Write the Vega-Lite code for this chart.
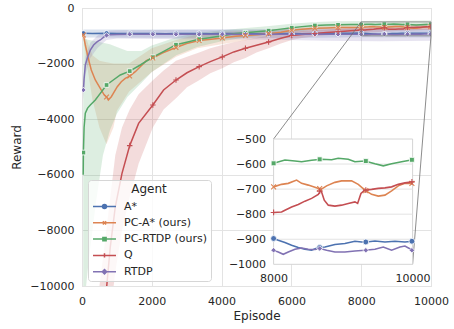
{
  "$schema": "https://vega.github.io/schema/vega-lite/v6.json",
  "width": 349,
  "height": 278,
  "autosize": "none",
  "padding": {"left": 82, "top": 8, "right": 23, "bottom": 43},
  "config": {
    "font": "DejaVu Sans",
    "view": {"stroke": "#dcdcdc", "strokeWidth": 1},
    "axis": {"labelFontSize": 11, "titleFontSize": 12, "labelColor": "#262626", "titleColor": "#262626", "titleFontWeight": "normal", "gridColor": "#e3e3e3", "gridWidth": 1, "domain": false, "ticks": false, "labelFlush": false},
    "legend": {"labelFontSize": 11, "titleFontSize": 12, "labelColor": "#262626", "titleColor": "#262626", "titleFontWeight": "normal"}
  },
  "datasets": {
    "lines": [
      {"a":"A*","ep":40,"r":-910},{"a":"A*","ep":300,"r":-915},{"a":"A*","ep":703,"r":-910},{"a":"A*","ep":1000,"r":-918},{"a":"A*","ep":1367,"r":-920},{"a":"A*","ep":1700,"r":-915},{"a":"A*","ep":2030,"r":-918},{"a":"A*","ep":2400,"r":-922},{"a":"A*","ep":2693,"r":-918},{"a":"A*","ep":3000,"r":-915},{"a":"A*","ep":3357,"r":-920},{"a":"A*","ep":3700,"r":-925},{"a":"A*","ep":4020,"r":-918},{"a":"A*","ep":4350,"r":-915},{"a":"A*","ep":4683,"r":-920},{"a":"A*","ep":5000,"r":-925},{"a":"A*","ep":5347,"r":-918},{"a":"A*","ep":5700,"r":-915},{"a":"A*","ep":6010,"r":-920},{"a":"A*","ep":6300,"r":-925},{"a":"A*","ep":6673,"r":-918},{"a":"A*","ep":7000,"r":-915},{"a":"A*","ep":7337,"r":-910},{"a":"A*","ep":7700,"r":-905},{"a":"A*","ep":8000,"r":-897},{"a":"A*","ep":8067,"r":-904},{"a":"A*","ep":8163,"r":-913},{"a":"A*","ep":8259,"r":-924},{"a":"A*","ep":8355,"r":-933},{"a":"A*","ep":8451,"r":-940},{"a":"A*","ep":8547,"r":-944},{"a":"A*","ep":8643,"r":-933},{"a":"A*","ep":8739,"r":-931},{"a":"A*","ep":8882,"r":-921},{"a":"A*","ep":9026,"r":-917},{"a":"A*","ep":9170,"r":-908},{"a":"A*","ep":9266,"r":-911},{"a":"A*","ep":9338,"r":-911},{"a":"A*","ep":9458,"r":-907},{"a":"A*","ep":9602,"r":-911},{"a":"A*","ep":9746,"r":-908},{"a":"A*","ep":9890,"r":-911},{"a":"A*","ep":10000,"r":-908},
      {"a":"PC-A* (ours)","ep":40,"r":-970},{"a":"PC-A* (ours)","ep":95,"r":-1330},{"a":"PC-A* (ours)","ep":180,"r":-1810},{"a":"PC-A* (ours)","ep":266,"r":-2230},{"a":"PC-A* (ours)","ep":381,"r":-2590},{"a":"PC-A* (ours)","ep":524,"r":-2890},{"a":"PC-A* (ours)","ep":639,"r":-3130},{"a":"PC-A* (ours)","ep":703,"r":-3200},{"a":"PC-A* (ours)","ep":754,"r":-3310},{"a":"PC-A* (ours)","ep":840,"r":-3190},{"a":"PC-A* (ours)","ep":897,"r":-3070},{"a":"PC-A* (ours)","ep":1011,"r":-2830},{"a":"PC-A* (ours)","ep":1126,"r":-2650},{"a":"PC-A* (ours)","ep":1240,"r":-2530},{"a":"PC-A* (ours)","ep":1367,"r":-2450},{"a":"PC-A* (ours)","ep":1527,"r":-2290},{"a":"PC-A* (ours)","ep":1670,"r":-2110},{"a":"PC-A* (ours)","ep":1842,"r":-1895},{"a":"PC-A* (ours)","ep":2030,"r":-1800},{"a":"PC-A* (ours)","ep":2300,"r":-1620},{"a":"PC-A* (ours)","ep":2693,"r":-1420},{"a":"PC-A* (ours)","ep":3000,"r":-1280},{"a":"PC-A* (ours)","ep":3357,"r":-1170},{"a":"PC-A* (ours)","ep":3700,"r":-1120},{"a":"PC-A* (ours)","ep":4020,"r":-1080},{"a":"PC-A* (ours)","ep":4400,"r":-1020},{"a":"PC-A* (ours)","ep":4683,"r":-990},{"a":"PC-A* (ours)","ep":5000,"r":-960},{"a":"PC-A* (ours)","ep":5347,"r":-930},{"a":"PC-A* (ours)","ep":5700,"r":-870},{"a":"PC-A* (ours)","ep":6010,"r":-800},{"a":"PC-A* (ours)","ep":6300,"r":-760},{"a":"PC-A* (ours)","ep":6673,"r":-730},{"a":"PC-A* (ours)","ep":7000,"r":-715},{"a":"PC-A* (ours)","ep":7337,"r":-705},{"a":"PC-A* (ours)","ep":7700,"r":-700},{"a":"PC-A* (ours)","ep":8000,"r":-691},{"a":"PC-A* (ours)","ep":8115,"r":-681},{"a":"PC-A* (ours)","ep":8211,"r":-677},{"a":"PC-A* (ours)","ep":8331,"r":-664},{"a":"PC-A* (ours)","ep":8403,"r":-677},{"a":"PC-A* (ours)","ep":8499,"r":-684},{"a":"PC-A* (ours)","ep":8595,"r":-693},{"a":"PC-A* (ours)","ep":8681,"r":-701},{"a":"PC-A* (ours)","ep":8763,"r":-687},{"a":"PC-A* (ours)","ep":8882,"r":-673},{"a":"PC-A* (ours)","ep":8978,"r":-667},{"a":"PC-A* (ours)","ep":9122,"r":-667},{"a":"PC-A* (ours)","ep":9218,"r":-681},{"a":"PC-A* (ours)","ep":9314,"r":-704},{"a":"PC-A* (ours)","ep":9410,"r":-721},{"a":"PC-A* (ours)","ep":9506,"r":-728},{"a":"PC-A* (ours)","ep":9602,"r":-724},{"a":"PC-A* (ours)","ep":9698,"r":-707},{"a":"PC-A* (ours)","ep":9794,"r":-687},{"a":"PC-A* (ours)","ep":9890,"r":-677},{"a":"PC-A* (ours)","ep":10000,"r":-677},
      {"a":"PC-RTDP (ours)","ep":35,"r":-6000},{"a":"PC-RTDP (ours)","ep":40,"r":-5200},{"a":"PC-RTDP (ours)","ep":60,"r":-4300},{"a":"PC-RTDP (ours)","ep":95,"r":-3780},{"a":"PC-RTDP (ours)","ep":160,"r":-3600},{"a":"PC-RTDP (ours)","ep":238,"r":-3490},{"a":"PC-RTDP (ours)","ep":381,"r":-3310},{"a":"PC-RTDP (ours)","ep":524,"r":-3070},{"a":"PC-RTDP (ours)","ep":703,"r":-2770},{"a":"PC-RTDP (ours)","ep":897,"r":-2590},{"a":"PC-RTDP (ours)","ep":1097,"r":-2410},{"a":"PC-RTDP (ours)","ep":1367,"r":-2270},{"a":"PC-RTDP (ours)","ep":1670,"r":-2050},{"a":"PC-RTDP (ours)","ep":2030,"r":-1770},{"a":"PC-RTDP (ours)","ep":2330,"r":-1570},{"a":"PC-RTDP (ours)","ep":2693,"r":-1320},{"a":"PC-RTDP (ours)","ep":3000,"r":-1230},{"a":"PC-RTDP (ours)","ep":3357,"r":-1120},{"a":"PC-RTDP (ours)","ep":3700,"r":-1060},{"a":"PC-RTDP (ours)","ep":4020,"r":-1000},{"a":"PC-RTDP (ours)","ep":4350,"r":-930},{"a":"PC-RTDP (ours)","ep":4683,"r":-890},{"a":"PC-RTDP (ours)","ep":5000,"r":-850},{"a":"PC-RTDP (ours)","ep":5347,"r":-815},{"a":"PC-RTDP (ours)","ep":5700,"r":-760},{"a":"PC-RTDP (ours)","ep":6010,"r":-710},{"a":"PC-RTDP (ours)","ep":6300,"r":-670},{"a":"PC-RTDP (ours)","ep":6673,"r":-630},{"a":"PC-RTDP (ours)","ep":7000,"r":-615},{"a":"PC-RTDP (ours)","ep":7337,"r":-605},{"a":"PC-RTDP (ours)","ep":7700,"r":-598},{"a":"PC-RTDP (ours)","ep":8000,"r":-597},{"a":"PC-RTDP (ours)","ep":8163,"r":-584},{"a":"PC-RTDP (ours)","ep":8307,"r":-588},{"a":"PC-RTDP (ours)","ep":8403,"r":-591},{"a":"PC-RTDP (ours)","ep":8547,"r":-585},{"a":"PC-RTDP (ours)","ep":8691,"r":-581},{"a":"PC-RTDP (ours)","ep":8835,"r":-583},{"a":"PC-RTDP (ours)","ep":8930,"r":-577},{"a":"PC-RTDP (ours)","ep":9074,"r":-581},{"a":"PC-RTDP (ours)","ep":9170,"r":-591},{"a":"PC-RTDP (ours)","ep":9314,"r":-588},{"a":"PC-RTDP (ours)","ep":9458,"r":-599},{"a":"PC-RTDP (ours)","ep":9578,"r":-607},{"a":"PC-RTDP (ours)","ep":9698,"r":-599},{"a":"PC-RTDP (ours)","ep":9842,"r":-591},{"a":"PC-RTDP (ours)","ep":10000,"r":-583},
      {"a":"Q","ep":40,"r":-30000},{"a":"Q","ep":300,"r":-18000},{"a":"Q","ep":500,"r":-13000},{"a":"Q","ep":600,"r":-11500},{"a":"Q","ep":716,"r":-9900},{"a":"Q","ep":811,"r":-8590},{"a":"Q","ep":954,"r":-7150},{"a":"Q","ep":1146,"r":-5950},{"a":"Q","ep":1367,"r":-4950},{"a":"Q","ep":1622,"r":-4150},{"a":"Q","ep":2030,"r":-3490},{"a":"Q","ep":2338,"r":-2950},{"a":"Q","ep":2693,"r":-2590},{"a":"Q","ep":3008,"r":-2330},{"a":"Q","ep":3357,"r":-2110},{"a":"Q","ep":3676,"r":-1930},{"a":"Q","ep":4020,"r":-1760},{"a":"Q","ep":4350,"r":-1580},{"a":"Q","ep":4683,"r":-1450},{"a":"Q","ep":5000,"r":-1340},{"a":"Q","ep":5347,"r":-1220},{"a":"Q","ep":5700,"r":-1090},{"a":"Q","ep":6010,"r":-990},{"a":"Q","ep":6300,"r":-950},{"a":"Q","ep":6673,"r":-915},{"a":"Q","ep":7000,"r":-880},{"a":"Q","ep":7337,"r":-850},{"a":"Q","ep":7700,"r":-815},{"a":"Q","ep":8000,"r":-793},{"a":"Q","ep":8115,"r":-791},{"a":"Q","ep":8163,"r":-784},{"a":"Q","ep":8259,"r":-771},{"a":"Q","ep":8355,"r":-761},{"a":"Q","ep":8451,"r":-748},{"a":"Q","ep":8547,"r":-737},{"a":"Q","ep":8643,"r":-721},{"a":"Q","ep":8681,"r":-704},{"a":"Q","ep":8729,"r":-744},{"a":"Q","ep":8787,"r":-764},{"a":"Q","ep":8882,"r":-768},{"a":"Q","ep":8978,"r":-764},{"a":"Q","ep":9074,"r":-757},{"a":"Q","ep":9170,"r":-751},{"a":"Q","ep":9209,"r":-757},{"a":"Q","ep":9257,"r":-717},{"a":"Q","ep":9314,"r":-704},{"a":"Q","ep":9410,"r":-701},{"a":"Q","ep":9506,"r":-697},{"a":"Q","ep":9602,"r":-695},{"a":"Q","ep":9698,"r":-691},{"a":"Q","ep":9794,"r":-681},{"a":"Q","ep":9890,"r":-675},{"a":"Q","ep":10000,"r":-671},
      {"a":"RTDP","ep":40,"r":-2950},{"a":"RTDP","ep":60,"r":-2550},{"a":"RTDP","ep":95,"r":-2050},{"a":"RTDP","ep":152,"r":-1810},{"a":"RTDP","ep":238,"r":-1510},{"a":"RTDP","ep":332,"r":-1330},{"a":"RTDP","ep":438,"r":-1210},{"a":"RTDP","ep":524,"r":-1150},{"a":"RTDP","ep":639,"r":-1030},{"a":"RTDP","ep":703,"r":-985},{"a":"RTDP","ep":800,"r":-960},{"a":"RTDP","ep":1000,"r":-950},{"a":"RTDP","ep":1367,"r":-945},{"a":"RTDP","ep":1700,"r":-940},{"a":"RTDP","ep":2030,"r":-945},{"a":"RTDP","ep":2400,"r":-942},{"a":"RTDP","ep":2693,"r":-945},{"a":"RTDP","ep":3000,"r":-940},{"a":"RTDP","ep":3357,"r":-945},{"a":"RTDP","ep":3700,"r":-948},{"a":"RTDP","ep":4020,"r":-944},{"a":"RTDP","ep":4350,"r":-940},{"a":"RTDP","ep":4683,"r":-945},{"a":"RTDP","ep":5000,"r":-948},{"a":"RTDP","ep":5347,"r":-944},{"a":"RTDP","ep":5700,"r":-940},{"a":"RTDP","ep":6010,"r":-945},{"a":"RTDP","ep":6300,"r":-948},{"a":"RTDP","ep":6673,"r":-944},{"a":"RTDP","ep":7000,"r":-942},{"a":"RTDP","ep":7337,"r":-945},{"a":"RTDP","ep":7700,"r":-944},{"a":"RTDP","ep":8000,"r":-944},{"a":"RTDP","ep":8067,"r":-951},{"a":"RTDP","ep":8139,"r":-960},{"a":"RTDP","ep":8211,"r":-951},{"a":"RTDP","ep":8307,"r":-940},{"a":"RTDP","ep":8403,"r":-935},{"a":"RTDP","ep":8499,"r":-940},{"a":"RTDP","ep":8595,"r":-941},{"a":"RTDP","ep":8667,"r":-937},{"a":"RTDP","ep":8763,"r":-944},{"a":"RTDP","ep":8882,"r":-951},{"a":"RTDP","ep":9026,"r":-951},{"a":"RTDP","ep":9170,"r":-947},{"a":"RTDP","ep":9314,"r":-944},{"a":"RTDP","ep":9458,"r":-940},{"a":"RTDP","ep":9578,"r":-931},{"a":"RTDP","ep":9698,"r":-944},{"a":"RTDP","ep":9818,"r":-931},{"a":"RTDP","ep":9890,"r":-927},{"a":"RTDP","ep":10000,"r":-944}
    ],
    "markers": [
      {"a":"A*","ep":40,"r":-910},{"a":"A*","ep":703,"r":-910},{"a":"A*","ep":1367,"r":-920},{"a":"A*","ep":2030,"r":-918},{"a":"A*","ep":2693,"r":-918},{"a":"A*","ep":3357,"r":-920},{"a":"A*","ep":4020,"r":-918},{"a":"A*","ep":4683,"r":-920},{"a":"A*","ep":5347,"r":-918},{"a":"A*","ep":6010,"r":-920},{"a":"A*","ep":6673,"r":-918},{"a":"A*","ep":7337,"r":-910},{"a":"A*","ep":8000,"r":-897},{"a":"A*","ep":8663,"r":-933},{"a":"A*","ep":9327,"r":-911},{"a":"A*","ep":9990,"r":-908},
      {"a":"PC-A* (ours)","ep":40,"r":-970},{"a":"PC-A* (ours)","ep":703,"r":-3200},{"a":"PC-A* (ours)","ep":1367,"r":-2450},{"a":"PC-A* (ours)","ep":2030,"r":-1800},{"a":"PC-A* (ours)","ep":2693,"r":-1420},{"a":"PC-A* (ours)","ep":3357,"r":-1170},{"a":"PC-A* (ours)","ep":4020,"r":-1080},{"a":"PC-A* (ours)","ep":4683,"r":-990},{"a":"PC-A* (ours)","ep":5347,"r":-930},{"a":"PC-A* (ours)","ep":6010,"r":-800},{"a":"PC-A* (ours)","ep":6673,"r":-730},{"a":"PC-A* (ours)","ep":7337,"r":-705},{"a":"PC-A* (ours)","ep":8000,"r":-691},{"a":"PC-A* (ours)","ep":8663,"r":-698},{"a":"PC-A* (ours)","ep":9327,"r":-706},{"a":"PC-A* (ours)","ep":9990,"r":-677},
      {"a":"PC-RTDP (ours)","ep":40,"r":-5200},{"a":"PC-RTDP (ours)","ep":703,"r":-2770},{"a":"PC-RTDP (ours)","ep":1367,"r":-2270},{"a":"PC-RTDP (ours)","ep":2030,"r":-1770},{"a":"PC-RTDP (ours)","ep":2693,"r":-1320},{"a":"PC-RTDP (ours)","ep":3357,"r":-1120},{"a":"PC-RTDP (ours)","ep":4020,"r":-1000},{"a":"PC-RTDP (ours)","ep":4683,"r":-890},{"a":"PC-RTDP (ours)","ep":5347,"r":-815},{"a":"PC-RTDP (ours)","ep":6010,"r":-710},{"a":"PC-RTDP (ours)","ep":6673,"r":-630},{"a":"PC-RTDP (ours)","ep":7337,"r":-605},{"a":"PC-RTDP (ours)","ep":8000,"r":-597},{"a":"PC-RTDP (ours)","ep":8663,"r":-581},{"a":"PC-RTDP (ours)","ep":9327,"r":-588},{"a":"PC-RTDP (ours)","ep":9990,"r":-583},
      {"a":"Q","ep":703,"r":-10080},{"a":"Q","ep":1367,"r":-4950},{"a":"Q","ep":2030,"r":-3490},{"a":"Q","ep":2693,"r":-2590},{"a":"Q","ep":3357,"r":-2110},{"a":"Q","ep":4020,"r":-1760},{"a":"Q","ep":4683,"r":-1450},{"a":"Q","ep":5347,"r":-1220},{"a":"Q","ep":6010,"r":-990},{"a":"Q","ep":6673,"r":-915},{"a":"Q","ep":7337,"r":-850},{"a":"Q","ep":8000,"r":-793},{"a":"Q","ep":8663,"r":-708},{"a":"Q","ep":9327,"r":-704},{"a":"Q","ep":9990,"r":-671},
      {"a":"RTDP","ep":40,"r":-2950},{"a":"RTDP","ep":703,"r":-985},{"a":"RTDP","ep":1367,"r":-945},{"a":"RTDP","ep":2030,"r":-945},{"a":"RTDP","ep":2693,"r":-945},{"a":"RTDP","ep":3357,"r":-945},{"a":"RTDP","ep":4020,"r":-944},{"a":"RTDP","ep":4683,"r":-945},{"a":"RTDP","ep":5347,"r":-944},{"a":"RTDP","ep":6010,"r":-945},{"a":"RTDP","ep":6673,"r":-944},{"a":"RTDP","ep":7337,"r":-945},{"a":"RTDP","ep":8000,"r":-944},{"a":"RTDP","ep":8663,"r":-937},{"a":"RTDP","ep":9327,"r":-944},{"a":"RTDP","ep":9990,"r":-944}
    ],
    "bands": [
      {"a":"A*","ep":40,"lo":-1060,"hi":-770},{"a":"A*","ep":2000,"lo":-1070,"hi":-770},{"a":"A*","ep":4000,"lo":-1070,"hi":-775},{"a":"A*","ep":6000,"lo":-1080,"hi":-770},{"a":"A*","ep":8000,"lo":-1050,"hi":-750},{"a":"A*","ep":10000,"lo":-1060,"hi":-760},
      {"a":"PC-A* (ours)","ep":40,"lo":-1050,"hi":-900},{"a":"PC-A* (ours)","ep":150,"lo":-2100,"hi":-1200},{"a":"PC-A* (ours)","ep":300,"lo":-3300,"hi":-1700},{"a":"PC-A* (ours)","ep":500,"lo":-4300,"hi":-1900},{"a":"PC-A* (ours)","ep":700,"lo":-4900,"hi":-1950},{"a":"PC-A* (ours)","ep":900,"lo":-4300,"hi":-2000},{"a":"PC-A* (ours)","ep":1000,"lo":-3700,"hi":-2000},{"a":"PC-A* (ours)","ep":1350,"lo":-3000,"hi":-2000},{"a":"PC-A* (ours)","ep":2000,"lo":-2300,"hi":-1450},{"a":"PC-A* (ours)","ep":2700,"lo":-1750,"hi":-1150},{"a":"PC-A* (ours)","ep":3300,"lo":-1450,"hi":-950},{"a":"PC-A* (ours)","ep":4000,"lo":-1300,"hi":-850},{"a":"PC-A* (ours)","ep":5000,"lo":-1100,"hi":-820},{"a":"PC-A* (ours)","ep":6000,"lo":-900,"hi":-700},{"a":"PC-A* (ours)","ep":6700,"lo":-830,"hi":-630},{"a":"PC-A* (ours)","ep":8000,"lo":-790,"hi":-590},{"a":"PC-A* (ours)","ep":9000,"lo":-780,"hi":-570},{"a":"PC-A* (ours)","ep":10000,"lo":-780,"hi":-580},
      {"a":"PC-RTDP (ours)","ep":35,"lo":-11000,"hi":-1100},{"a":"PC-RTDP (ours)","ep":200,"lo":-9000,"hi":-1150},{"a":"PC-RTDP (ours)","ep":400,"lo":-7000,"hi":-1200},{"a":"PC-RTDP (ours)","ep":600,"lo":-5300,"hi":-1250},{"a":"PC-RTDP (ours)","ep":800,"lo":-4400,"hi":-1300},{"a":"PC-RTDP (ours)","ep":1000,"lo":-3800,"hi":-1400},{"a":"PC-RTDP (ours)","ep":1300,"lo":-3200,"hi":-1550},{"a":"PC-RTDP (ours)","ep":1700,"lo":-2700,"hi":-1550},{"a":"PC-RTDP (ours)","ep":2000,"lo":-2300,"hi":-1350},{"a":"PC-RTDP (ours)","ep":2700,"lo":-1700,"hi":-1050},{"a":"PC-RTDP (ours)","ep":3300,"lo":-1400,"hi":-900},{"a":"PC-RTDP (ours)","ep":4000,"lo":-1200,"hi":-800},{"a":"PC-RTDP (ours)","ep":4700,"lo":-1050,"hi":-720},{"a":"PC-RTDP (ours)","ep":5300,"lo":-950,"hi":-660},{"a":"PC-RTDP (ours)","ep":6000,"lo":-850,"hi":-570},{"a":"PC-RTDP (ours)","ep":6700,"lo":-760,"hi":-500},{"a":"PC-RTDP (ours)","ep":7300,"lo":-730,"hi":-480},{"a":"PC-RTDP (ours)","ep":8000,"lo":-720,"hi":-470},{"a":"PC-RTDP (ours)","ep":9000,"lo":-720,"hi":-460},{"a":"PC-RTDP (ours)","ep":10000,"lo":-720,"hi":-450},
      {"a":"Q","ep":40,"lo":-38000,"hi":-22000},{"a":"Q","ep":300,"lo":-23000,"hi":-13000},{"a":"Q","ep":500,"lo":-16000,"hi":-10000},{"a":"Q","ep":600,"lo":-14000,"hi":-9000},{"a":"Q","ep":716,"lo":-12500,"hi":-7800},{"a":"Q","ep":811,"lo":-11000,"hi":-6800},{"a":"Q","ep":954,"lo":-9500,"hi":-5300},{"a":"Q","ep":1146,"lo":-8000,"hi":-4300},{"a":"Q","ep":1367,"lo":-6800,"hi":-3650},{"a":"Q","ep":1622,"lo":-5600,"hi":-3100},{"a":"Q","ep":2030,"lo":-4300,"hi":-2600},{"a":"Q","ep":2338,"lo":-3650,"hi":-2250},{"a":"Q","ep":2693,"lo":-3250,"hi":-1900},{"a":"Q","ep":3008,"lo":-2850,"hi":-1750},{"a":"Q","ep":3357,"lo":-2600,"hi":-1600},{"a":"Q","ep":3676,"lo":-2350,"hi":-1450},{"a":"Q","ep":4020,"lo":-2170,"hi":-1330},{"a":"Q","ep":4350,"lo":-1950,"hi":-1230},{"a":"Q","ep":4683,"lo":-1800,"hi":-1150},{"a":"Q","ep":5000,"lo":-1600,"hi":-1080},{"a":"Q","ep":5347,"lo":-1450,"hi":-1000},{"a":"Q","ep":5700,"lo":-1280,"hi":-920},{"a":"Q","ep":6010,"lo":-1150,"hi":-860},{"a":"Q","ep":6300,"lo":-1080,"hi":-830},{"a":"Q","ep":6673,"lo":-1020,"hi":-810},{"a":"Q","ep":7000,"lo":-980,"hi":-780},{"a":"Q","ep":7337,"lo":-950,"hi":-750},{"a":"Q","ep":7700,"lo":-920,"hi":-720},{"a":"Q","ep":8000,"lo":-900,"hi":-690},{"a":"Q","ep":9000,"lo":-830,"hi":-620},{"a":"Q","ep":10000,"lo":-780,"hi":-560},
      {"a":"RTDP","ep":40,"lo":-3300,"hi":-2600},{"a":"RTDP","ep":95,"lo":-2400,"hi":-1750},{"a":"RTDP","ep":238,"lo":-1800,"hi":-1250},{"a":"RTDP","ep":438,"lo":-1450,"hi":-1000},{"a":"RTDP","ep":703,"lo":-1150,"hi":-820},{"a":"RTDP","ep":1000,"lo":-1100,"hi":-800},{"a":"RTDP","ep":3000,"lo":-1120,"hi":-780},{"a":"RTDP","ep":5000,"lo":-1130,"hi":-770},{"a":"RTDP","ep":7000,"lo":-1180,"hi":-730},{"a":"RTDP","ep":8500,"lo":-1200,"hi":-720},{"a":"RTDP","ep":10000,"lo":-1180,"hi":-730}
    ]
  },
  "layer": [
    {
      "layer": [
        {
          "data": {"name": "bands"},
          "mark": {"type": "area", "opacity": 0.2, "clip": true},
          "encoding": {
            "x": {"field": "ep", "type": "quantitative", "title": "Episode", "scale": {"domain": [0, 10000], "nice": false, "zero": false}, "axis": {"values": [0, 2000, 4000, 6000, 8000, 10000], "format": "d", "title": "Episode", "labelPadding": 9, "titlePadding": 4, "grid": true}},
            "y": {"field": "lo", "type": "quantitative", "title": "Reward", "scale": {"domain": [-10000, 0], "nice": false, "zero": false}, "axis": {"values": [0, -2000, -4000, -6000, -8000, -10000], "format": "d", "title": "Reward", "labelPadding": 8, "titlePadding": 6, "grid": true}},
            "y2": {"field": "hi"},
            "color": {"field": "a", "type": "nominal"}
          }
        },
        {
          "data": {"name": "lines"},
          "mark": {"type": "line", "strokeWidth": 1.5, "clip": true},
          "encoding": {
            "x": {"field": "ep", "type": "quantitative", "title": "Episode"},
            "y": {"field": "r", "type": "quantitative", "title": "Reward"},
            "color": {
              "field": "a", "type": "nominal",
              "scale": {"domain": ["A*", "PC-A* (ours)", "PC-RTDP (ours)", "Q", "RTDP"], "range": ["#4c72b0", "#dd8452", "#55a868", "#c44e52", "#8172b3"]},
              "legend": {
                "title": "Agent", "orient": "none", "legendX": 6, "legendY": 172,
                "titleAnchor": "middle", "titlePadding": 4, "padding": 4,
                "fillColor": "rgba(255,255,255,0.8)", "strokeColor": "#d6d6d6", "cornerRadius": 3,
                "symbolSize": 132, "symbolStrokeWidth": 1.5, "symbolOffset": 6, "labelOffset": 13, "rowPadding": 4.3,
                "encode": {"symbols": {"update": {
                  "shape": {"signal": "datum.value === 'A*' ? 'M-2,0H2M0.35,0A0.35,0.35,0,1,1,-0.35,0A0.35,0.35,0,1,1,0.35,0Z' : datum.value === 'PC-A* (ours)' ? 'M-2,0H2M-0.28,-0.28L0.28,0.28M-0.28,0.28L0.28,-0.28' : datum.value === 'PC-RTDP (ours)' ? 'M-2,0H2M-0.28,-0.28H0.28V0.28H-0.28Z' : datum.value === 'Q' ? 'M-2,0H2M0,-0.38V0.38' : 'M-2,0H2M0,-0.38L0.38,0L0,0.38L-0.38,0Z'"},
                  "fill": {"scale": "color", "field": "value"},
                  "stroke": {"scale": "color", "field": "value"},
                  "opacity": {"value": 1}
                }}}
              }
            }
          }
        },
        {
          "data": {"name": "markers"},
          "transform": [{"filter": "datum.a === 'A*'"}],
          "mark": {"type": "point", "shape": "circle", "filled": true, "opacity": 1, "stroke": "white", "strokeWidth": 0.8, "size": 28, "clip": true},
          "encoding": {"x": {"field": "ep", "type": "quantitative", "title": "Episode"}, "y": {"field": "r", "type": "quantitative", "title": "Reward"}, "color": {"field": "a", "type": "nominal"}}
        },
        {
          "data": {"name": "markers"},
          "transform": [{"filter": "datum.a === 'PC-RTDP (ours)'"}],
          "mark": {"type": "point", "shape": "square", "filled": true, "opacity": 1, "stroke": "white", "strokeWidth": 0.8, "size": 22, "clip": true},
          "encoding": {"x": {"field": "ep", "type": "quantitative", "title": "Episode"}, "y": {"field": "r", "type": "quantitative", "title": "Reward"}, "color": {"field": "a", "type": "nominal"}}
        },
        {
          "data": {"name": "markers"},
          "transform": [{"filter": "datum.a === 'RTDP'"}],
          "mark": {"type": "point", "shape": "diamond", "filled": true, "opacity": 1, "stroke": "white", "strokeWidth": 0.8, "size": 30, "clip": true},
          "encoding": {"x": {"field": "ep", "type": "quantitative", "title": "Episode"}, "y": {"field": "r", "type": "quantitative", "title": "Reward"}, "color": {"field": "a", "type": "nominal"}}
        },
        {
          "data": {"name": "markers"},
          "transform": [{"filter": "datum.a === 'PC-A* (ours)'"}],
          "mark": {"type": "point", "shape": "M-1,-1L1,1M-1,1L1,-1", "filled": false, "opacity": 1, "strokeWidth": 1.1, "size": 22, "clip": true},
          "encoding": {"x": {"field": "ep", "type": "quantitative", "title": "Episode"}, "y": {"field": "r", "type": "quantitative", "title": "Reward"}, "color": {"field": "a", "type": "nominal"}}
        },
        {
          "data": {"name": "markers"},
          "transform": [{"filter": "datum.a === 'Q'"}],
          "mark": {"type": "point", "shape": "M-1,0H1M0,-1V1", "filled": false, "opacity": 1, "strokeWidth": 1.1, "size": 30, "clip": true},
          "encoding": {"x": {"field": "ep", "type": "quantitative", "title": "Episode"}, "y": {"field": "r", "type": "quantitative", "title": "Reward"}, "color": {"field": "a", "type": "nominal"}}
        },
        {
          "data": {"values": [{}]},
          "mark": {"type": "rect", "fill": "transparent", "stroke": "#7a7a7a", "strokeWidth": 0.8},
          "encoding": {"x": {"datum": 8000, "type": "quantitative"}, "x2": {"datum": 10000}, "y": {"datum": -1000, "type": "quantitative"}, "y2": {"datum": -500}}
        },
        {
          "data": {"values": [{}]},
          "mark": {"type": "rule", "color": "#6e6e6e", "strokeWidth": 0.8},
          "encoding": {"x": {"datum": 8000, "type": "quantitative"}, "y": {"datum": -500, "type": "quantitative"}, "x2": {"datum": 5490}, "y2": {"datum": -4712}}
        },
        {
          "data": {"values": [{}]},
          "mark": {"type": "rule", "color": "#6e6e6e", "strokeWidth": 0.8},
          "encoding": {"x": {"datum": 10000, "type": "quantitative"}, "y": {"datum": -1000, "type": "quantitative"}, "x2": {"datum": 9473}, "y2": {"datum": -9219}}
        }
      ]
    },
    {
      "layer": [
        {
          "data": {"values": [{}]},
          "mark": {"type": "rect", "fill": "white", "stroke": "#d4d4d4", "strokeWidth": 1},
          "encoding": {
            "x": {"datum": 8000, "type": "quantitative", "scale": {"domain": [8000, 10000], "nice": false, "zero": false, "range": [191.6, 330.6]}, "axis": {"orient": "bottom", "offset": -21.7, "values": [8000, 10000], "format": "d", "title": null, "grid": false, "labelPadding": 8, "zindex": 1}},
            "x2": {"datum": 10000},
            "y": {"datum": -1000, "type": "quantitative", "scale": {"domain": [-1000, -500], "nice": false, "zero": false, "range": [256.3, 131]}, "axis": {"orient": "left", "offset": -191.6, "values": [-500, -600, -700, -800, -900, -1000], "format": "d", "title": null, "grid": false, "labelPadding": 8, "zindex": 1}},
            "y2": {"datum": -500}
          }
        },
        {
          "data": {"values": [{"g": -600}, {"g": -700}, {"g": -800}, {"g": -900}]},
          "mark": {"type": "rule", "color": "#e3e3e3", "strokeWidth": 1},
          "encoding": {"y": {"field": "g", "type": "quantitative", "title": null}, "x": {"datum": 8000, "type": "quantitative"}, "x2": {"datum": 10000}}
        },
        {
          "data": {"name": "lines"},
          "transform": [{"filter": "datum.ep >= 8000"}],
          "mark": {"type": "line", "strokeWidth": 1.6},
          "encoding": {"x": {"field": "ep", "type": "quantitative", "title": null}, "y": {"field": "r", "type": "quantitative", "title": null}, "color": {"field": "a", "type": "nominal"}}
        },
        {
          "data": {"name": "markers"},
          "transform": [{"filter": "datum.ep >= 8000 && datum.a === 'A*'"}],
          "mark": {"type": "point", "shape": "circle", "filled": true, "opacity": 1, "stroke": "white", "strokeWidth": 0.8, "size": 34},
          "encoding": {"x": {"field": "ep", "type": "quantitative", "title": null}, "y": {"field": "r", "type": "quantitative", "title": null}, "color": {"field": "a", "type": "nominal"}}
        },
        {
          "data": {"name": "markers"},
          "transform": [{"filter": "datum.ep >= 8000 && datum.a === 'PC-RTDP (ours)'"}],
          "mark": {"type": "point", "shape": "square", "filled": true, "opacity": 1, "stroke": "white", "strokeWidth": 0.8, "size": 24},
          "encoding": {"x": {"field": "ep", "type": "quantitative", "title": null}, "y": {"field": "r", "type": "quantitative", "title": null}, "color": {"field": "a", "type": "nominal"}}
        },
        {
          "data": {"name": "markers"},
          "transform": [{"filter": "datum.ep >= 8000 && datum.a === 'RTDP'"}],
          "mark": {"type": "point", "shape": "diamond", "filled": true, "opacity": 1, "stroke": "white", "strokeWidth": 0.8, "size": 30},
          "encoding": {"x": {"field": "ep", "type": "quantitative", "title": null}, "y": {"field": "r", "type": "quantitative", "title": null}, "color": {"field": "a", "type": "nominal"}}
        },
        {
          "data": {"name": "markers"},
          "transform": [{"filter": "datum.ep >= 8000 && datum.a === 'PC-A* (ours)'"}],
          "mark": {"type": "point", "shape": "M-1,-1L1,1M-1,1L1,-1", "filled": false, "opacity": 1, "strokeWidth": 1.1, "size": 24},
          "encoding": {"x": {"field": "ep", "type": "quantitative", "title": null}, "y": {"field": "r", "type": "quantitative", "title": null}, "color": {"field": "a", "type": "nominal"}}
        },
        {
          "data": {"name": "markers"},
          "transform": [{"filter": "datum.ep >= 8000 && datum.a === 'Q'"}],
          "mark": {"type": "point", "shape": "M-1,0H1M0,-1V1", "filled": false, "opacity": 1, "strokeWidth": 1.1, "size": 34},
          "encoding": {"x": {"field": "ep", "type": "quantitative", "title": null}, "y": {"field": "r", "type": "quantitative", "title": null}, "color": {"field": "a", "type": "nominal"}}
        }
      ]
    }
  ],
  "resolve": {"scale": {"x": "independent", "y": "independent"}, "axis": {"x": "independent", "y": "independent"}}
}
